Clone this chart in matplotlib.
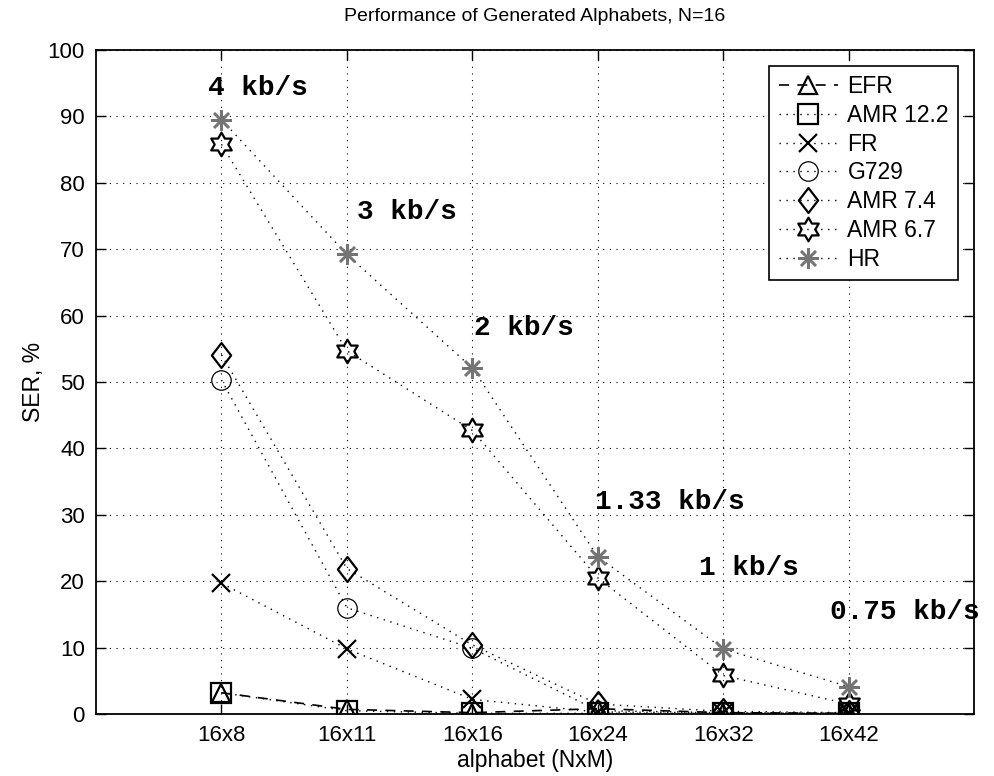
import numpy as np
import matplotlib
matplotlib.use("Agg")
import matplotlib.pyplot as plt
from matplotlib.path import Path

plt.rcParams["font.family"] = ["Liberation Sans", "DejaVu Sans"]

# === dados ===
alfabetos = ["16x8", "16x11", "16x16", "16x24", "16x32", "16x42"]
efr = [3.2, 0.7, 0.2, 0.8, 0.2, 0.1]
amr122 = [3.2, 0.5, 0.1, 0.1, 0.1, 0.1]
fr = [19.7, 9.8, 2.2, 0.3, 0.2, 0.1]
g729 = [50.3, 16.0, 9.9, 0.5, 0.2, 0.1]
amr74 = [54.1, 21.9, 10.4, 1.5, 0.4, 0.2]
amr67 = [85.8, 54.7, 42.7, 20.5, 5.8, 1.5]
hr = [89.5, 69.2, 52.1, 23.7, 9.8, 4.1]

taxas = ["4 kb/s", "3 kb/s", "2 kb/s", "1.33 kb/s", "1 kb/s", "0.75 kb/s"]
taxas_x = [0.89, 2.08, 3.01, 3.98, 4.81, 5.85]
taxas_y = [94.3, 75.6, 58.1, 31.9, 22.0, 15.4]

# === marcadores customizados ===
ang = np.deg2rad(90 + np.arange(12) * 30)
raio = np.where(np.arange(12) % 2 == 0, 1.0, 1 / np.sqrt(3))
verts = np.column_stack([raio * np.cos(ang), raio * np.sin(ang)])
hexagrama = Path(np.vstack([verts, verts[:1]]), closed=True)
losango = Path([(0, 1), (0.77, 0), (0, -1), (-0.77, 0), (0, 1)], closed=True)

x = np.arange(1, len(alfabetos) + 1)

fig = plt.figure(figsize=(9.94, 7.76), dpi=100)
ax = fig.add_axes([0.0966, 0.0799, 0.8834, 0.8557])

pontilhado = (0, (1, 4))
ax.plot(x, efr, linestyle="--", color="black", lw=1.2, marker="^", ms=13,
        mfc="none", mec="black", mew=1.6, label="EFR", dashes=(6, 5))
ax.plot(x, amr122, linestyle=pontilhado, color="black", lw=1, marker="s", ms=14,
        mfc="none", mec="black", mew=1.6, label="AMR 12.2")
ax.plot(x, fr, linestyle=pontilhado, color="black", lw=1, marker="x", ms=13,
        mec="black", mew=1.6, label="FR")
ax.plot(x, g729, linestyle=pontilhado, color="black", lw=1, marker="o", ms=14,
        mfc="none", mec="black", mew=0.9, label="G729")
ax.plot(x, amr74, linestyle=pontilhado, color="black", lw=1, marker=losango, ms=18,
        mfc="none", mec="black", mew=1.6, label="AMR 7.4")
ax.plot(x, amr67, linestyle=pontilhado, color="black", lw=1, marker=hexagrama, ms=17,
        mfc="none", mec="black", mew=1.6, label="AMR 6.7")
ax.plot(x, hr, linestyle=pontilhado, color="black", lw=1, marker=(8, 2, 0), ms=15,
        mec="#747474", mew=1.8, label="HR")

for t, tx, ty in zip(taxas, taxas_x, taxas_y):
    ax.text(tx, ty, t, family=["Liberation Mono", "DejaVu Sans Mono"],
            weight="bold", fontsize=20, ha="left", va="center")

ax.set_xlim(0, 7)
ax.set_ylim(0, 100)
ax.set_xticks(x)
ax.set_xticklabels(alfabetos)
ax.set_yticks(np.arange(0, 101, 10))
ax.tick_params(direction="in", length=7, width=1, top=True, right=True,
               labelsize=16, pad=8)
ax.grid(True, color="black", linestyle=(0, (1, 5)), lw=0.8)
for s in ax.spines.values():
    s.set_linewidth(1.3)

ax.set_title("Performance of Generated Alphabets, N=16", fontsize=14, pad=21)
ax.set_xlabel("alphabet (NxM)", fontsize=16.5, labelpad=2)
ax.set_ylabel("SER, %", fontsize=16.5, labelpad=2)

leg = ax.legend(loc="upper right", fontsize=16.5, frameon=True, fancybox=False,
                edgecolor="black", framealpha=1, handlelength=2.6,
                borderaxespad=0.7, labelspacing=0.25, handletextpad=0.4)
leg.get_frame().set_linewidth(1.2)

plt.savefig("out.png", dpi=100)
